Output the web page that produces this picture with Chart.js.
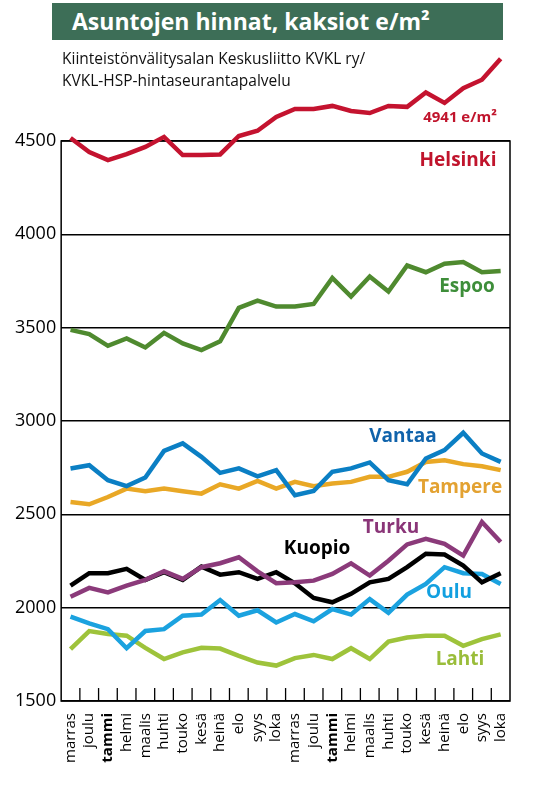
<!DOCTYPE html>
<html>
<head>
<meta charset="utf-8">
<script src="https://cdn.jsdelivr.net/npm/chart.js@4"></script>
<style>
  body { margin: 0; background: #fff; }
  #wrap { position: relative; width: 560px; height: 785px; }
  #title { position: absolute; left: 52px; top: 3px; width: 451px; height: 37px; background: #3d6e57;
           color: #fff; font: bold 23px "Open Sans", sans-serif; line-height: 37px; padding-left: 20px; box-sizing: border-box; }
  #sub { position: absolute; left: 62px; top: 47px; font: 15.5px "Open Sans", sans-serif; line-height: 22px; color: #111; }
</style>
</head>
<body>
<div id="wrap">
  <canvas id="c" width="560" height="785"></canvas>
  <div id="title">Asuntojen hinnat, kaksiot e/m²</div>
  <div id="sub">Kiinteistönvälitysalan Keskusliitto KVKL ry/<br>KVKL-HSP-hintaseurantapalvelu</div>
</div>
<script>
const months = ["marras","joulu","tammi","helmi","maalis","huhti","touko","kesä","heinä","elo","syys","loka",
                "marras","joulu","tammi","helmi","maalis","huhti","touko","kesä","heinä","elo","syys","loka"];
const yTicks = [1500, 2000, 2500, 3000, 3500, 4000, 4500];

const helsinki = [4516,4441,4398,4430,4468,4522,4425,4425,4428,4527,4555,4629,4672,4672,4688,4661,4650,4688,4683,4760,4704,4783,4828,4941];
const espoo    = [3488,3466,3403,3442,3394,3472,3416,3380,3427,3606,3645,3613,3613,3627,3766,3667,3774,3694,3833,3797,3843,3852,3797,3803];
const vantaa   = [2746,2763,2683,2651,2697,2840,2880,2808,2722,2746,2704,2737,2602,2625,2728,2746,2778,2683,2661,2799,2844,2937,2826,2781];
const tampere  = [2566,2554,2593,2638,2624,2638,2624,2611,2661,2638,2679,2638,2674,2651,2665,2674,2701,2701,2728,2781,2790,2769,2758,2737];
const kuopio   = [2118,2185,2185,2208,2149,2190,2149,2220,2177,2190,2154,2190,2131,2052,2029,2074,2136,2154,2217,2289,2285,2226,2136,2185];
const turku    = [2059,2106,2082,2118,2149,2195,2154,2217,2238,2270,2195,2131,2136,2145,2181,2238,2172,2252,2339,2369,2342,2279,2459,2352];
const oulu     = [1952,1916,1885,1783,1875,1885,1957,1963,2041,1957,1986,1921,1966,1927,1993,1963,2046,1973,2070,2127,2217,2185,2181,2127];
const lahti    = [1778,1875,1859,1850,1785,1725,1761,1785,1781,1742,1706,1690,1730,1747,1725,1783,1725,1818,1840,1850,1850,1796,1832,1857];

const series = [
  { name: "Helsinki", data: helsinki, color: "#c4132f", text: "#c0142c", x: 458, y: 161 },
  { name: "Espoo",    data: espoo,    color: "#4f8a2f", text: "#3e8e3a", x: 467, y: 287 },
  { name: "Vantaa",   data: vantaa,   color: "#0b7fc4", text: "#1063ab", x: 403, y: 437 },
  { name: "Tampere",  data: tampere,  color: "#e9a826", text: "#e3a232", x: 460, y: 488 },
  { name: "Turku",    data: turku,    color: "#8b3a7a", text: "#8a3578", x: 391, y: 528 },
  { name: "Kuopio",   data: kuopio,   color: "#000000", text: "#000000", x: 317, y: 549 },
  { name: "Oulu",     data: oulu,     color: "#1ba2df", text: "#12a0e0", x: 449, y: 593 },
  { name: "Lahti",    data: lahti,    color: "#9ec33b", text: "#9abd3a", x: 460, y: 660 }
];

const decor = {
  id: "decor",
  beforeDatasetsDraw(chart) {
    const { ctx, chartArea: a, scales: { x } } = chart;
    ctx.save();
    ctx.strokeStyle = "#000";
    ctx.lineWidth = 1.5;
    ctx.strokeRect(a.left, a.top, a.right - a.left, a.bottom - a.top);
    const step = x.getPixelForValue(1) - x.getPixelForValue(0);
    ctx.lineWidth = 1.3;
    for (let i = 1; i < months.length; i++) {
      const px = x.getPixelForValue(i) - step / 2;
      ctx.beginPath(); ctx.moveTo(px, a.bottom); ctx.lineTo(px, a.bottom - 13); ctx.stroke();
    }
    ctx.restore();
  },
  afterDraw(chart) {
    const ctx = chart.ctx;
    ctx.save();
    ctx.textAlign = "center";
    ctx.textBaseline = "middle";
    ctx.font = "bold 19px 'Open Sans', sans-serif";
    series.forEach(s => { ctx.fillStyle = s.text; ctx.fillText(s.name, s.x, s.y); });
    ctx.fillStyle = "#c0142c";
    ctx.font = "bold 15px 'Open Sans', sans-serif";
    ctx.fillText("4941 e/m²", 460, 118);
    ctx.restore();
  }
};

new Chart(document.getElementById("c"), {
  type: "line",
  data: {
    labels: months,
    datasets: series.map(s => ({
      label: s.name, data: s.data, borderColor: s.color, borderWidth: 4.5,
      pointRadius: 0, tension: 0, clip: false, borderJoinStyle: "miter"
    }))
  },
  options: {
    responsive: false, animation: false,
    layout: { padding: { top: 141, left: 10, right: 50, bottom: 18 } },
    plugins: { legend: { display: false }, tooltip: { enabled: false } },
    scales: {
      x: {
        offset: true,
        grid: { display: false },
        border: { display: false },
        ticks: {
          autoSkip: false, minRotation: 90, maxRotation: 90, color: "#000", padding: 4,
          font: c => ({ family: "'Open Sans', sans-serif", size: 15, weight: (c.index === 2 || c.index === 14) ? "bold" : "normal" })
        }
      },
      y: {
        min: 1500, max: 4500,
        afterBuildTicks: axis => { axis.ticks = yTicks.map(v => ({ value: v })); },
        grid: { color: "#000", lineWidth: 1.5, drawTicks: false },
        border: { display: false },
        ticks: { color: "#000", padding: 5, callback: v => String(v), font: { family: "'Open Sans', sans-serif", size: 18 } }
      }
    }
  },
  plugins: [decor]
});
</script>
</body>
</html>
